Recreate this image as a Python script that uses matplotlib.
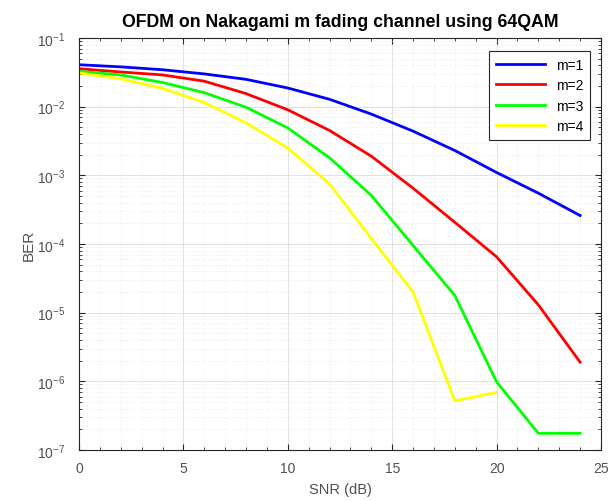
import numpy as np
import matplotlib
matplotlib.use('Agg')
import matplotlib.pyplot as plt
from matplotlib.ticker import MultipleLocator, LogLocator, NullFormatter

plt.rcParams['font.family'] = ['Liberation Sans', 'DejaVu Sans']

# SNR points (dB)
snr = [0, 2, 4, 6, 8, 10, 12, 14, 16, 18, 20, 22, 24]

# BER for each Nakagami m
ber_m1 = [0.0408, 0.038, 0.0345, 0.030, 0.025, 0.0187, 0.0128, 0.0078, 0.0044,
          0.0023, 0.0011, 0.00055, 0.00026]
ber_m2 = [0.0357, 0.032, 0.029, 0.0235, 0.0155, 0.0090, 0.0045, 0.0019, 6.5e-4,
          2.07e-4, 6.5e-5, 1.3e-5, 1.9e-6]
ber_m3 = [0.0327, 0.029, 0.0225, 0.016, 0.0098, 0.0049, 0.0018, 5.1e-4, 9.5e-5,
          1.78e-5, 9.8e-7, 1.75e-7, 1.75e-7]
# m=4 stops at 20 dB
snr_m4 = [0, 2, 4, 6, 8, 10, 12, 14, 16, 18, 20]
ber_m4 = [0.031, 0.0255, 0.0185, 0.0115, 0.0058, 0.0025, 7.5e-4, 1.2e-4, 2.0e-5,
          5.2e-7, 6.9e-7]

labels = ['m=1', 'm=2', 'm=3', 'm=4']
colors = ['#0000ff', '#ff0000', '#00ff00', '#ffff00']

fig = plt.figure(figsize=(6.11, 5.02), dpi=100)
ax = fig.add_axes([0.1293, 0.1016, 0.8543, 0.8207])

ax.semilogy(snr, ber_m1, color=colors[0], linewidth=2, label=labels[0])
ax.semilogy(snr, ber_m2, color=colors[1], linewidth=2, label=labels[1])
ax.semilogy(snr, ber_m3, color=colors[2], linewidth=2, label=labels[2])
ax.semilogy(snr_m4, ber_m4, color=colors[3], linewidth=2, label=labels[3])

ax.set_xlim(0, 25)
ax.set_ylim(1e-7, 1e-1)
ax.xaxis.set_major_locator(MultipleLocator(5))
ax.xaxis.set_minor_locator(MultipleLocator(1))
ax.yaxis.set_major_locator(LogLocator(base=10, numticks=10))
ax.yaxis.set_minor_locator(LogLocator(base=10, subs=np.arange(2, 10), numticks=20))
ax.yaxis.set_minor_formatter(NullFormatter())

ax.grid(True, which='major', color='#dcdcdc', linewidth=0.6)
ax.grid(True, which='minor', color='#e3e3e3', linewidth=0.5, linestyle=':')
ax.set_axisbelow(True)

ax.tick_params(which='both', direction='in', top=True, right=True,
               colors='#262626', labelsize=10, labelcolor='#505050')
ax.tick_params(which='major', length=4)
ax.tick_params(axis='x', which='major', pad=8)
ax.tick_params(axis='y', which='major', pad=10)
ax.tick_params(which='minor', length=2)
for s in ax.spines.values():
    s.set_color('#262626')
    s.set_linewidth(0.8)

ax.set_xlabel('SNR (dB)', fontsize=10.5, color='#505050', labelpad=5)
ax.set_ylabel('BER', fontsize=11, color='#505050', labelpad=1)
ax.set_title('OFDM on Nakagami m fading channel using 64QAM',
             fontsize=12.8, fontweight='bold', pad=9)

leg = ax.legend(loc='upper right', fontsize=10, frameon=True, fancybox=False,
                edgecolor='#262626', handlelength=3.5, borderpad=0.5,
                labelspacing=0.45, framealpha=1, bbox_to_anchor=(0.993, 0.985))
leg.get_frame().set_linewidth(0.8)

fig.savefig('out.png', dpi=100)
